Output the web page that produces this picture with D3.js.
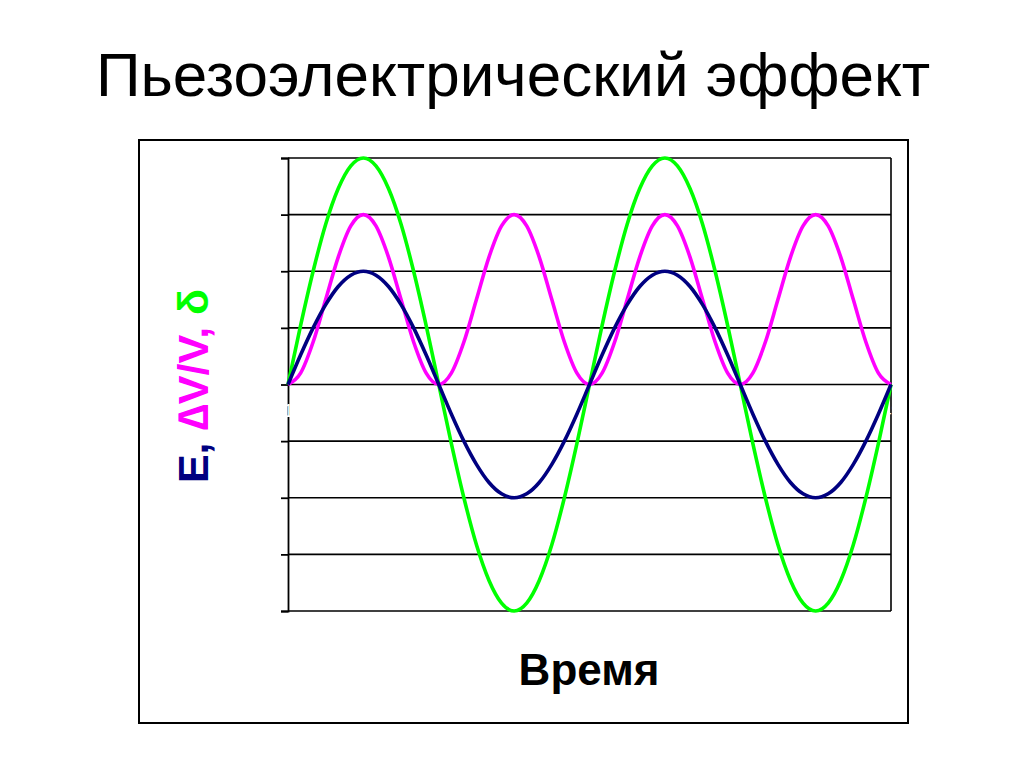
<!DOCTYPE html>
<html><head><meta charset="utf-8">
<script src="https://cdn.jsdelivr.net/npm/d3@7"></script>
<style>body{margin:0;background:#fff;}svg{display:block;}</style>
</head><body>
<script>
const titleText = "Пьезоэлектрический эффект";
const xAxisTitle = "Время";
const yTitleParts = [{t:"E, ", c:"#000080"},{t:"\u2206V/V, ", c:"#FF00FF"},{t:"\u03B4", c:"#00FF00"}];
const points = d3.range(1, 50); // category numbers 1..49
const xTickLabels = ["1","13","25","37","49"];
const yTicks = [-4,-3,-2,-1,0,1,2,3,4];
const seriesE = [0,0.52,1,1.41,1.73,1.93,2,1.93,1.73,1.41,1,0.52,0,-0.52,-1,-1.41,-1.73,-1.93,-2,-1.93,-1.73,-1.41,-1,-0.52,
                 0,0.52,1,1.41,1.73,1.93,2,1.93,1.73,1.41,1,0.52,0,-0.52,-1,-1.41,-1.73,-1.93,-2,-1.93,-1.73,-1.41,-1,-0.52,0];
const seriesDV = [0,0.2,0.75,1.5,2.25,2.8,3,2.8,2.25,1.5,0.75,0.2,0,0.2,0.75,1.5,2.25,2.8,3,2.8,2.25,1.5,0.75,0.2,
                  0,0.2,0.75,1.5,2.25,2.8,3,2.8,2.25,1.5,0.75,0.2,0,0.2,0.75,1.5,2.25,2.8,3,2.8,2.25,1.5,0.75,0.2,0];
const seriesD = [0,1.04,2,2.83,3.46,3.86,4,3.86,3.46,2.83,2,1.04,0,-1.04,-2,-2.83,-3.46,-3.86,-4,-3.86,-3.46,-2.83,-2,-1.04,
                 0,1.04,2,2.83,3.46,3.86,4,3.86,3.46,2.83,2,1.04,0,-1.04,-2,-2.83,-3.46,-3.86,-4,-3.86,-3.46,-2.83,-2,-1.04,0];
const series = [
  {name:"δ", values:seriesD, color:"#00FF00"},
  {name:"ΔV/V", values:seriesDV, color:"#FF00FF"},
  {name:"E", values:seriesE, color:"#000080"}
];

const W = 1024, H = 767;
const svg = d3.select("body").append("svg").attr("width", W).attr("height", H);
const font = "'Liberation Sans', Arial, sans-serif";

svg.append("text").attr("x", 513).attr("y", 96).attr("text-anchor","middle")
  .attr("font-family", font).attr("font-size", 62).attr("fill","#000").text(titleText);

// outer chart frame
svg.append("rect").attr("x",139).attr("y",140).attr("width",769).attr("height",583)
  .attr("fill","#fff").attr("stroke","#000").attr("stroke-width",2);

const x = d3.scaleLinear().domain([1, 49]).range([288, 891]);
const y = d3.scaleLinear().domain([-4, 4]).range([611, 158]);

// gridlines
svg.append("g").selectAll("line").data(yTicks).join("line")
  .attr("x1", 288).attr("x2", 891).attr("y1", d=>y(d)).attr("y2", d=>y(d))
  .attr("stroke","#000").attr("stroke-width",1.6);

// y axis
const yAxis = svg.append("g").attr("transform","translate(288,0)")
  .call(d3.axisLeft(y).tickValues(yTicks).tickSize(7).tickFormat(""));
yAxis.selectAll("path,line").attr("stroke","#000").attr("stroke-width",1.8);
// right border
svg.append("line").attr("x1",891).attr("x2",891).attr("y1",y(4)).attr("y2",y(-4))
  .attr("stroke","#000").attr("stroke-width",1.6);

// x axis (through zero), white labels
const xAxis = svg.append("g").attr("transform",`translate(0,${y(0)})`)
  .call(d3.axisBottom(x).tickValues(xTickLabels.map(Number)).tickSize(0).tickPadding(20));
xAxis.select(".domain").remove();
xAxis.selectAll("text").attr("fill","#fff").attr("font-size",18).attr("font-family",font);

// lines
const line = d3.line().x((d,i)=>x(points[i])).y(d=>y(d)).curve(d3.curveMonotoneX);
svg.append("g").selectAll("path").data(series).join("path")
  .attr("d", d=>line(d.values)).attr("fill","none")
  .attr("stroke", d=>d.color).attr("stroke-width",3.6).attr("stroke-linejoin","round");

// axis titles
svg.append("text").attr("x", 589).attr("y", 685).attr("text-anchor","middle")
  .attr("font-family", font).attr("font-weight","bold").attr("font-size", 44).attr("fill","#000").text(xAxisTitle);

const yt = svg.append("text").attr("transform","translate(208,386) rotate(-90)").attr("text-anchor","middle")
  .attr("font-family", font).attr("font-weight","bold").attr("font-size", 43);
yt.selectAll("tspan").data(yTitleParts).join("tspan").attr("fill", d=>d.c).text(d=>d.t);
</script>
</body></html>
